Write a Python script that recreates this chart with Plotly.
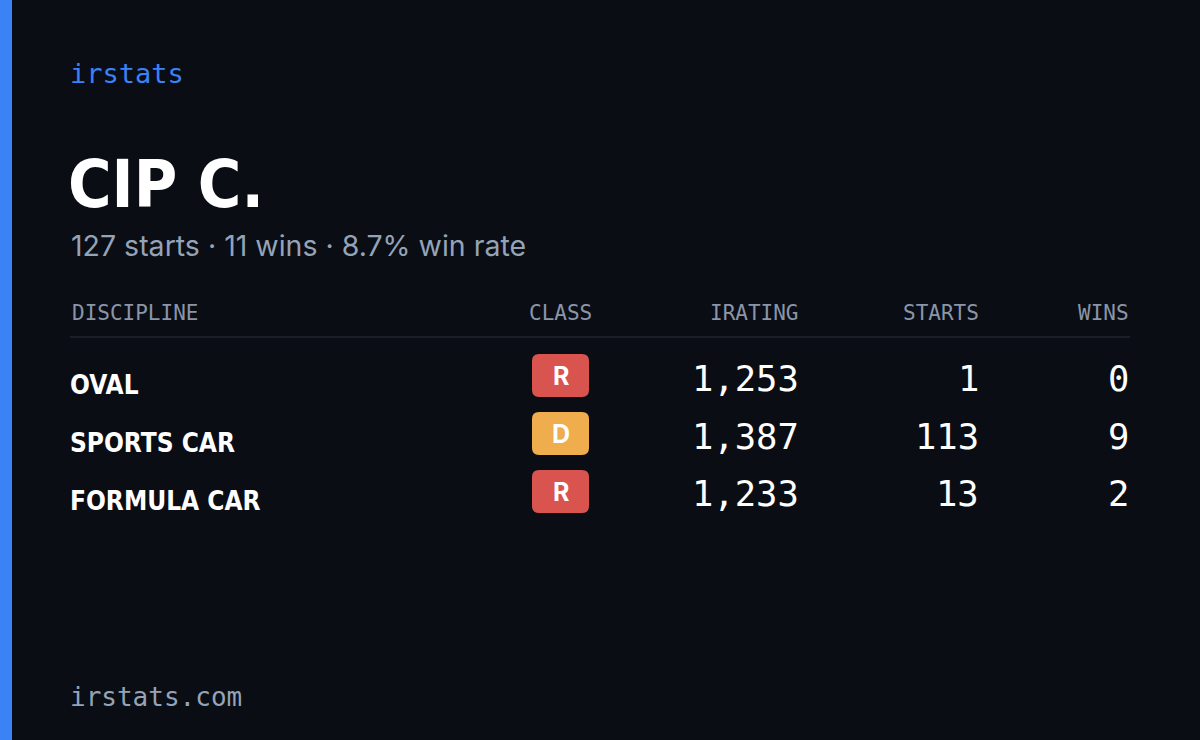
import plotly.graph_objects as go

disciplines = ["OVAL", "SPORTS CAR", "FORMULA CAR"]
classes = ["R", "D", "R"]
iratings = [1253, 1387, 1233]
starts = [1, 113, 13]
wins = [0, 9, 2]
class_colors = {"R": "#d9534f", "D": "#efad4d"}
headers = ["DISCIPLINE", "CLASS", "IRATING", "STARTS", "WINS"]

W, H = 1200, 740
def px(x): return x / W
def py(y): return 1 - y / H

MONO = "DejaVu Sans Mono"
COND = "DejaVu Sans Condensed"
SANS = "Inter"

fig = go.Figure()
ann = []
shapes = []

def text(x, y, s, size, color, font, anchor="left", bold=False):
    ann.append(dict(x=px(x), y=py(y), xref="paper", yref="paper", text=f"<b>{s}</b>" if bold else s,
                    showarrow=False, xanchor=anchor, yanchor="middle",
                    font=dict(size=size, color=color, family=font)))

shapes.append(dict(type="rect", xref="paper", yref="paper", x0=0, x1=px(12), y0=0, y1=1,
                   fillcolor="#3b82f6", line_width=0))
text(68, 73, "irstats", 27, "#3b82f6", MONO)
text(66, 184, "CIP C.", 66, "#ffffff", COND, bold=True)
total_starts = sum(starts); total_wins = sum(wins)
text(69, 245, f"{total_starts} starts · {total_wins} wins · {total_wins/total_starts*100:.1f}% win rate", 28.5, "#94a3b8", SANS)

hx = [(70, "left"), (560, "center"), (801, "right"), (981, "right"), (1131, "right")]
for (x, a), h in zip(hx, headers):
    text(x, 313, h, 21, "#8b95a8", MONO, a)
shapes.append(dict(type="line", xref="paper", yref="paper", x0=px(70), x1=px(1130), y0=py(337), y1=py(337),
                   line=dict(color="#1f2430", width=1.5)))

for i, (d, c, r, s, w) in enumerate(zip(disciplines, classes, iratings, starts, wins)):
    yc = 378 + 58 * i
    text(68, yc + 7, d, 26, "#ffffff", COND, bold=True)
    x0, x1, y0, y1, rr = 532, 589, yc - 24, yc + 19, 7
    path = (f"M {px(x0+rr)},{py(y0)} L {px(x1-rr)},{py(y0)} Q {px(x1)},{py(y0)} {px(x1)},{py(y0+rr)} "
            f"L {px(x1)},{py(y1-rr)} Q {px(x1)},{py(y1)} {px(x1-rr)},{py(y1)} L {px(x0+rr)},{py(y1)} "
            f"Q {px(x0)},{py(y1)} {px(x0)},{py(y1-rr)} L {px(x0)},{py(y0+rr)} Q {px(x0)},{py(y0)} {px(x0+rr)},{py(y0)} Z")
    shapes.append(dict(type="path", xref="paper", yref="paper", path=path, fillcolor=class_colors[c], line_width=0))
    text(560.5, yc - 2, c, 25, "#ffffff", SANS, "center", bold=True)
    text(801, yc, f"{r:,}", 35.5, "#ffffff", MONO, "right")
    text(981, yc, f"{s}", 35.5, "#ffffff", MONO, "right")
    text(1131, yc, f"{w}", 35.5, "#ffffff", MONO, "right")

text(68, 697, "irstats.com", 26, "#94a3b8", MONO)

fig.update_layout(width=W, height=H, margin=dict(l=0, r=0, t=0, b=0),
                  paper_bgcolor="#0a0d14", plot_bgcolor="#0a0d14",
                  xaxis=dict(visible=False), yaxis=dict(visible=False),
                  annotations=ann, shapes=shapes, showlegend=False)
fig.write_html("out.html", config={"displayModeBar": False},
               post_script="document.body.style.margin='0';document.body.style.background='#0a0d14';")
